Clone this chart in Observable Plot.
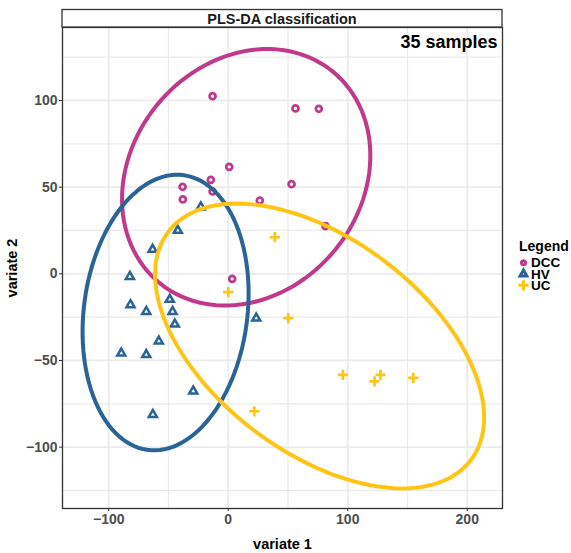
<!DOCTYPE html>
<html>
<head>
<meta charset="utf-8">
<script src="https://cdn.jsdelivr.net/npm/d3@7"></script>
<script src="https://cdn.jsdelivr.net/npm/@observablehq/plot@0.6"></script>
<style>
  html, body { margin: 0; padding: 0; background: #fff; }
  #chart { width: 571px; height: 553px; }
</style>
</head>
<body>
<div id="chart"></div>
<script>
// ---- data ----
const groups = ["DCC", "HV", "UC"];
const groupColors = ["#C0398C", "#2A6395", "#FFC516"];
const groupSymbols = ["circle", "triangle", "plus"];

const dccX = [-13.1, 56.3, 75.8, 0.8, -38.2, -14.6, -38.0, -13.1, 26.4, 53.0, 81.4, 3.3];
const dccY = [102.5, 95.4, 95.2, 61.7, 50.2, 54.2, 42.9, 47.5, 42.3, 51.7, 27.5, -2.9];

const hvX = [-23.0, -42.2, -63.3, -82.3, -81.8, -68.6, -48.9, -46.6, -44.7, -58.1, -89.5, -68.6, -29.3, -63.1, 23.4];
const hvY = [38.5, 25.0, 14.0, -1.6, -17.9, -21.8, -14.8, -21.8, -29.1, -38.9, -45.8, -46.7, -67.7, -81.2, -25.6];

const ucX = [39.0, 0.0, 50.2, 95.9, 127.4, 122.4, 154.8, 21.8];
const ucY = [21.1, -10.6, -25.6, -58.3, -58.3, -62.1, -60.0, -79.3];

const xTicks = [-100, 0, 100, 200];
const yTicks = [-100, -50, 0, 50, 100];
const xMinor = [-50, 50, 150];
const yMinor = [-125, -75, -25, 25, 75, 125];

const stripTitle = "PLS-DA classification";
const sampleLabel = "35 samples";
const xLabel = "variate 1";
const yLabel = "variate 2";
const legendTitle = "Legend";
const ellipseLevel = 0.95;

// ---- build tables ----
const seriesX = [dccX, hvX, ucX];
const seriesY = [dccY, hvY, ucY];
const points = groups.flatMap((g, gi) => seriesX[gi].map((x, i) => ({group: g, x, y: seriesY[gi][i]})));

// 95% confidence ellipse, same construction as ellipse::ellipse used by mixOmics
function confEllipse(g, xs, ys, level, n = 120) {
  const mx = d3.mean(xs), my = d3.mean(ys);
  const sx = d3.deviation(xs), sy = d3.deviation(ys);
  const cov = d3.sum(xs, (x, i) => (x - mx) * (ys[i] - my)) / (xs.length - 1);
  const r = cov / (sx * sy);
  const t = Math.sqrt(-2 * Math.log(1 - level));
  const d = Math.acos(r);
  return d3.range(n + 1).map(i => {
    const a = 2 * Math.PI * i / n;
    return {group: g, x: t * sx * Math.cos(a + d / 2) + mx, y: t * sy * Math.cos(a - d / 2) + my};
  });
}
const ellipses = groups.flatMap((g, gi) => confEllipse(g, seriesX[gi], seriesY[gi], ellipseLevel));

const FONT = "'Liberation Sans', Arial, Helvetica, sans-serif";
const M = {left: 62, right: 69, top: 27, bottom: 45};
const W = 571, H = 553;

const dotStyle = {
  DCC: {r: 3.0, strokeWidth: 2.7},
  HV: {r: 3.0, strokeWidth: 2.5},
  UC: {r: 3.4, strokeWidth: 2.7}
};

const plot = Plot.plot({
  width: W, height: H,
  marginLeft: M.left, marginRight: M.right, marginTop: M.top, marginBottom: M.bottom,
  style: {fontFamily: FONT, background: "#fff", overflow: "visible"},
  x: {domain: [-138.7, 229.5], label: null},
  y: {domain: [-135.4, 142.1], label: null},
  color: {domain: groups, range: groupColors},
  symbol: {domain: groups, range: groupSymbols},
  marks: [
    Plot.gridX(xMinor, {stroke: "#EBEBEB", strokeOpacity: 1, strokeWidth: 1.2}),
    Plot.gridY(yMinor, {stroke: "#EBEBEB", strokeOpacity: 1, strokeWidth: 1.2}),
    Plot.gridX(xTicks, {stroke: "#EBEBEB", strokeOpacity: 1, strokeWidth: 1.8}),
    Plot.gridY(yTicks, {stroke: "#EBEBEB", strokeOpacity: 1, strokeWidth: 1.8}),
    Plot.axisX(xTicks, {tickSize: 3, tickPadding: 3, stroke: "#333", fill: "#4D4D4D",
      fontSize: 14, fontWeight: "bold", label: null, tickFormat: d => d3.format("")(d).replace("-", "\u2212")}),
    Plot.axisY(yTicks, {tickSize: 3, tickPadding: 2, stroke: "#333", fill: "#4D4D4D",
      fontSize: 14, fontWeight: "bold", label: null, tickFormat: d => d3.format("")(d).replace("-", "\u2212")}),
    ...groups.map((g, gi) => Plot.dot(points.filter(p => p.group === g), {
      x: "x", y: "y", symbol: "group", stroke: "group",
      r: dotStyle[g].r, strokeWidth: dotStyle[g].strokeWidth
    })),
    Plot.line(ellipses, {x: "x", y: "y", z: "group", stroke: "group", strokeWidth: 4, curve: "linear"}),
    Plot.frame({stroke: "#333", strokeWidth: 1.3}),
    Plot.text([sampleLabel], {text: d => d, frameAnchor: "top-right", textAnchor: "end", lineAnchor: "middle",
      dx: -5, dy: 15, fontSize: 18, fontWeight: "bold", fill: "#000"}),
    Plot.text([xLabel], {text: d => d, frameAnchor: "bottom", textAnchor: "middle", lineAnchor: "middle",
      dy: 36, fontSize: 14.5, fontWeight: "bold", fill: "#000"}),
    Plot.text([yLabel], {text: d => d, frameAnchor: "left", textAnchor: "middle", lineAnchor: "middle",
      dx: -50, rotate: -90, fontSize: 14.5, fontWeight: "bold", fill: "#000"})
  ]
});

// ---- facet strip and legend (layout elements) ----
const svg = d3.select(plot);
const pw = W - M.left - M.right;
const strip = svg.append("g");
strip.append("rect")
  .attr("x", M.left).attr("y", 9.5).attr("width", pw).attr("height", M.top - 9.5)
  .attr("fill", "#fff").attr("stroke", "#333").attr("stroke-width", 1.3);
strip.append("text")
  .attr("x", M.left + pw / 2).attr("y", 18.5)
  .attr("text-anchor", "middle").attr("dominant-baseline", "central")
  .attr("font-family", FONT).attr("font-size", 14.5).attr("font-weight", "bold").attr("fill", "#1A1A1A")
  .text(stripTitle);

const leg = svg.append("g").attr("font-family", FONT).attr("font-weight", "bold").attr("text-anchor", "start");
leg.append("text").attr("x", 519).attr("y", 245.5).attr("dominant-baseline", "central")
  .attr("text-anchor", "start").attr("font-size", 14).attr("fill", "#000").text(legendTitle);
const symMap = {circle: d3.symbolCircle, triangle: d3.symbolTriangle, plus: d3.symbolPlus};
const legSizes = {circle: 13, triangle: 20, plus: 36};
groups.forEach((g, i) => {
  const cy = 262.7 + i * 11.3;
  leg.append("path")
    .attr("transform", `translate(523.5,${cy})`)
    .attr("d", d3.symbol(symMap[groupSymbols[i]], legSizes[groupSymbols[i]])())
    .attr("fill", "none").attr("stroke", groupColors[i]).attr("stroke-width", 3);
  leg.append("text").attr("x", 531).attr("y", cy).attr("dominant-baseline", "central")
    .attr("text-anchor", "start").attr("font-size", 13.5).attr("fill", "#000").text(g);
});

document.getElementById("chart").appendChild(plot);
</script>
</body>
</html>
